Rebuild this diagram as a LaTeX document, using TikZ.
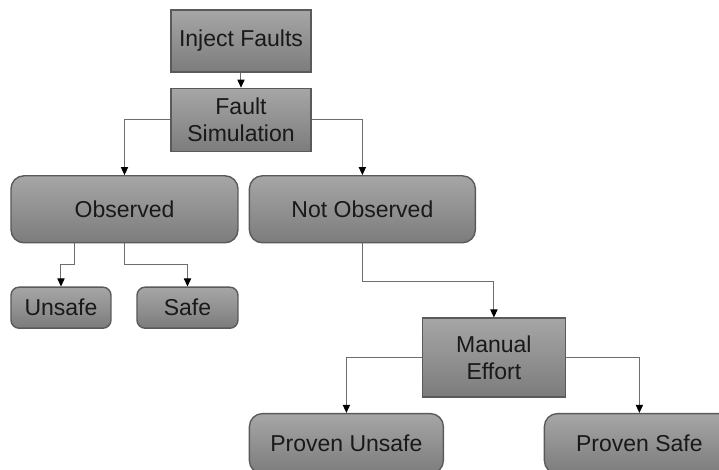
\documentclass[tikz,border=0pt]{standalone}
\usepackage{fontspec}
\setmainfont{Liberation Sans}
\usetikzlibrary{positioning, calc, arrows.meta}

\definecolor{boxtop}{HTML}{A6A6A6}
\definecolor{boxbot}{HTML}{7C7C7C}
\definecolor{boxline}{HTML}{5A5A5A}
\definecolor{wire}{HTML}{6E6E6E}

\begin{document}
\begin{tikzpicture}[
    box/.style={
      draw=boxline, line width=0.7pt, rectangle,
      top color=boxtop, bottom color=boxbot,
      align=center, inner sep=0pt, text=black!90,
      font=\fontsize{11.5}{13.5}\selectfont
    },
    rbox/.style={box, rounded corners=6.5pt},
    conn/.style={
      -{Triangle[length=4pt,width=3.6pt,color=black]},
      draw=wire, line width=0.5pt
    }
]

  % Cadre
  \useasboundingbox (-120.5pt,-214.5pt) rectangle (239pt,20.5pt);
  \clip (-120.5pt,-214.5pt) rectangle (239pt,20.5pt);

  % Boîtes
  \node[box, minimum width=70pt, minimum height=31pt] (n1) {Inject Faults};
  \node[box, below=7.5pt of n1, minimum width=70pt, minimum height=31.5pt] (n2) {Fault\\Simulation};
  \node[rbox, below=11.5pt of n2, xshift=-58.25pt, minimum width=113.5pt, minimum height=33.5pt] (n3) {Observed};
  \node[rbox, right=5pt of n3, minimum width=113pt, minimum height=33.5pt] (n4) {Not Observed};
  \node[rbox, rounded corners=4pt, below right=21.5pt and 0pt of n3.south west, minimum width=50pt, minimum height=20.5pt] (n5) {Unsafe};
  \node[rbox, rounded corners=4pt, below left=21.5pt and 0pt of n3.south east, minimum width=50.5pt, minimum height=20.5pt] (n6) {Safe};
  \node[box, below=37pt of n4, xshift=65.75pt, minimum width=71.5pt, minimum height=39.5pt] (n7) {Manual\\Effort};
  \node[rbox, below=7.5pt of n7, xshift=-73.75pt, minimum width=97pt, minimum height=30pt] (n8) {Proven Unsafe};
  \node[rbox, below=7.5pt of n7, xshift=72.75pt, minimum width=95pt, minimum height=30pt] (n9) {Proven Safe};

  % Flèches
  \draw[conn] (n1.south) -- (n2.north);
  \draw[conn] (n2.west) -| (n3.north);
  \draw[conn] (n2.east) -| (n4.north);
  \draw[conn] ([xshift=-25pt]n3.south) -- ++(0,-10.5pt) -| (n5.north);
  \draw[conn] (n3.south) -- ++(0,-10.5pt) -| (n6.north);
  \draw[conn] (n4.south) -- ++(0,-19pt) -| (n7.north);
  \draw[conn] (n7.west) -| (n8.north);
  \draw[conn] (n7.east) -| (n9.north);
\end{tikzpicture}
\end{document}
